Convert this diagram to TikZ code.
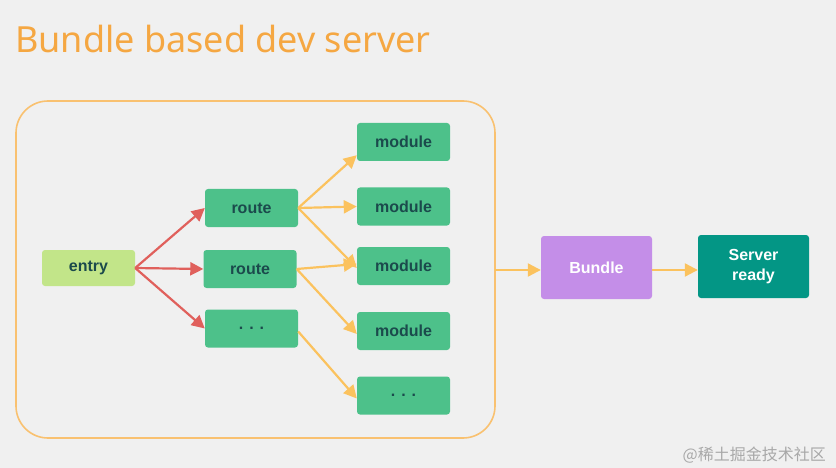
\documentclass[tikz,border=0pt]{standalone}
\usepackage{fontspec}
\setmainfont{Noto Sans}
\newfontfamily\labfont{Liberation Sans}
\newfontfamily\cjk{Noto Sans CJK SC}
\usetikzlibrary{arrows.meta}
\definecolor{bg}{HTML}{F0F0F0}
\definecolor{titleor}{HTML}{F5A742}
\definecolor{frameor}{HTML}{F9C170}
\definecolor{arrowor}{HTML}{FBC25E}
\definecolor{arrowred}{HTML}{E0605C}
\definecolor{entrygreen}{HTML}{C2E589}
\definecolor{boxgreen}{HTML}{4DC18A}
\definecolor{txtdark}{HTML}{1B4A4C}
\definecolor{bundlepurple}{HTML}{C48EE8}
\definecolor{teal}{HTML}{039685}
\definecolor{wm}{HTML}{A8A8A8}
\tikzset{
  box/.style={rounded corners=3pt, inner sep=0pt, align=center, font=\labfont\bfseries\fontsize{16}{18}\selectfont},
  gbox/.style={box, fill=boxgreen, text=txtdark, minimum width=93pt, minimum height=38pt},
  redarr/.style={draw=arrowred, line width=2.2pt, -{Triangle[length=13pt,width=13pt]}},
  orarr/.style={draw=arrowor, line width=2.2pt, -{Triangle[length=13pt,width=13pt]}},
}
\newcommand{\threedots}{\textbf{.\hspace{6pt}.\hspace{6pt}.}}
\begin{document}
\begin{tikzpicture}[x=1pt,y=-1pt]
\fill[bg] (0,0) rectangle (836,468);
\useasboundingbox (0,0) rectangle (836,468);
\node[anchor=base west, text=titleor, inner sep=0pt, font=\fontsize{36}{40}\selectfont] (title) at (15,53) {Bundle based dev server};
\draw[frameor, line width=1.6pt, rounded corners=32pt] (16,101) rectangle (495,438);
\coordinate (frameR) at (495,270);
% entry
\node[box, fill=entrygreen, text=txtdark, minimum width=93pt, minimum height=36pt] (entry) at (88.5,268) {entry};
% routes
\node[gbox] (r1) at (251.5,208) {route};
\node[gbox] (r2) at (250,269) {route};
\node[gbox] (r3) at (251.5,328.5) {\threedots};
% modules
\node[gbox] (m1) at (403.5,142) {module};
\node[gbox] (m2) at (403.5,206.5) {module};
\node[gbox] (m3) at (403.5,266) {module};
\node[gbox] (m4) at (403.5,331) {module};
\node[gbox] (m5) at (403.5,395.5) {\threedots};
% bundle / server
\node[box, fill=bundlepurple, text=white, minimum width=111pt, minimum height=63pt] (bundle) at (596.5,267.5) {Bundle};
\node[box, fill=teal, text=white, minimum width=111pt, minimum height=63pt] (server) at (753.5,266.5) {Server\\[2pt]ready};
% red arrows
\draw[redarr] (entry.east) -- (r1.west);
\draw[redarr] (entry.east) -- (r2.west);
\draw[redarr] (entry.east) -- (r3.west);
% orange arrows
\draw[orarr] (r1.east) -- ([yshift=6pt]m1.south west);
\draw[orarr] (r1.east) -- (m2.west);
\draw[orarr] (r1.east) -- ([yshift=-2pt]m3.west);
\draw[orarr] (r2.east) -- ([yshift=2pt]m3.west);
\draw[orarr] (r2.east) -- ([yshift=-3pt]m4.west);
\draw[orarr] ([yshift=-3pt]r3.east) -- ([yshift=-3pt]m5.west);
\draw[orarr] (frameR) -- (bundle.west |- frameR);
\draw[orarr] (bundle.east |- frameR) -- (server.west |- frameR);
% watermark
\node[anchor=base east, text=wm, inner sep=0pt, font=\cjk\fontsize{16}{18}\selectfont] (wm) at (826,460) {@稀土掘金技术社区};
\end{tikzpicture}
\end{document}
